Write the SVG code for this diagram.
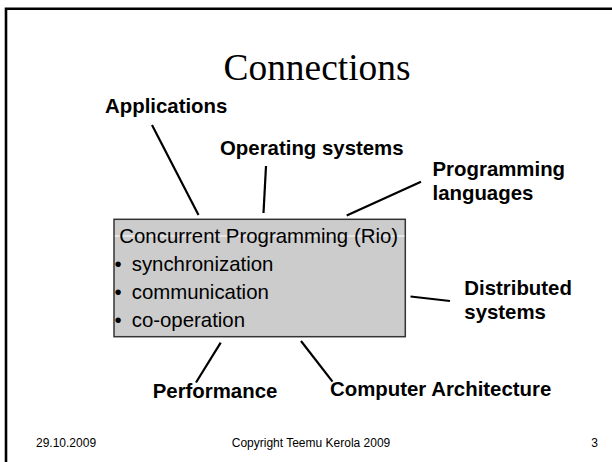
<svg xmlns="http://www.w3.org/2000/svg" width="612" height="462" viewBox="0 0 612 462">
<style>
.lbl{font-family:"Liberation Sans",Arial,sans-serif;font-size:20.4px;font-weight:bold;fill:#000}
.box{font-family:"Liberation Sans",Arial,sans-serif;font-size:20.4px;fill:#000}
.foot{font-family:"Liberation Sans",Arial,sans-serif;font-size:12px;fill:#000}
.con{stroke:#000;stroke-width:2.2;fill:none;stroke-linecap:butt}
</style>
<rect width="612" height="462" fill="#fff"/>
<path d="M6,462 V8.7 H612" fill="none" stroke="#000" stroke-width="2.6"/>
<text x="317" y="80" text-anchor="middle" font-family="'Liberation Serif','Times New Roman',serif" font-size="37.4">Connections</text>
<g id="connectors">
<line class="con" x1="152" y1="125" x2="198.5" y2="215"/>
<line class="con" x1="266" y1="166" x2="263.5" y2="213"/>
<line class="con" x1="421" y1="181.7" x2="346.7" y2="215.5"/>
<line class="con" x1="410.5" y1="296.5" x2="450" y2="301"/>
<line class="con" x1="220.7" y1="342.7" x2="196" y2="382.5"/>
<line class="con" x1="301" y1="341" x2="332.5" y2="381.7"/>
</g>
<g id="center">
<rect x="114" y="219.3" width="291.3" height="117.4" fill="#cccccc" stroke="#333" stroke-width="1.5"/>
<line x1="114.8" y1="236" x2="404.5" y2="236" stroke="#fff" stroke-width="1"/>
<text class="box" x="119.3" y="242.7">Concurrent Programming (Rio)</text>
<text class="box" x="114.5" y="270.7">•</text><text class="box" x="131.7" y="270.7">synchronization</text>
<text class="box" x="114.5" y="299">•</text><text class="box" x="131.7" y="299">communication</text>
<text class="box" x="114.5" y="326.7">•</text><text class="box" x="131.7" y="326.7">co-operation</text>
</g>
<g id="applications"><text class="lbl" x="105" y="113">Applications</text></g>
<g id="operating-systems"><text class="lbl" x="220" y="155">Operating systems</text></g>
<g id="programming-languages"><text class="lbl" x="432.5" y="176">Programming</text><text class="lbl" x="432.5" y="200">languages</text></g>
<g id="distributed-systems"><text class="lbl" x="464.3" y="295">Distributed</text><text class="lbl" x="464.3" y="319">systems</text></g>
<g id="performance"><text class="lbl" x="152.7" y="398">Performance</text></g>
<g id="computer-architecture"><text class="lbl" x="330" y="395.5">Computer Architecture</text></g>
<g id="footer">
<text class="foot" x="36" y="446.5">29.10.2009</text>
<text class="foot" x="311" y="446.5" text-anchor="middle">Copyright Teemu Kerola 2009</text>
<text class="foot" x="598" y="446.5" text-anchor="end">3</text>
</g>
</svg>
